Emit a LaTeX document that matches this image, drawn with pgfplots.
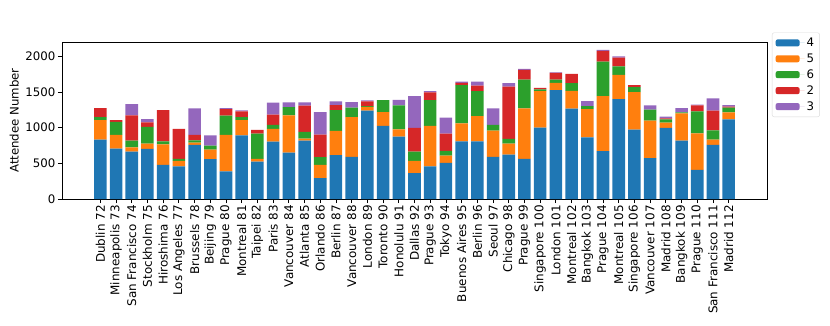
\documentclass[border=0pt]{standalone}
\usepackage{pgfplots}
\pgfplotsset{compat=1.18}
\usepackage{pgfplotstable}
\usepackage{fontspec}
\setmainfont{DejaVu Sans}
\definecolor{c4}{HTML}{1F77B4}
\definecolor{c5}{HTML}{FF7F0E}
\definecolor{c6}{HTML}{2CA02C}
\definecolor{c2}{HTML}{D62728}
\definecolor{c3}{HTML}{9467BD}
\pgfplotstableread{
x v4 v5 v6 v2 v3
0 832 275 42 125 0
1 707 190 182 28 0
2 665 60 93 354 158
3 702 75 232 65 47
4 479 288 42 437 0
5 456 79 28 418 0
6 758 33 32 74 372
7 558 135 56 0 144
8 386 511 270 93 14
9 893 214 42 79 14
10 525 38 353 51 0
11 804 177 56 144 168
12 651 521 116 0 65
13 818 28 93 368 46
14 293 186 107 316 316
15 614 339 293 70 51
16 591 558 130 0 79
17 1237 55 10 65 14
18 1023 195 168 0 0
19 874 103 334 0 79
20 363 172 130 330 447
21 456 567 363 107 18
22 507 102 65 242 223
23 809 251 535 33 18
24 809 354 348 79 56
25 591 367 79 0 232
26 623 154 65 734 47
27 563 706 405 135 14
28 1000 511 24 23 0
29 1525 103 46 93 9
30 1265 251 107 130 0
31 865 395 42 0 70
32 670 772 483 149 14
33 1400 339 121 121 19
34 972 525 70 28 0
35 572 525 154 0 60
36 995 75 46 14 23
37 818 382 14 0 60
38 409 512 307 83 10
39 758 74 131 274 172
40 1116 98 65 14 23
}\data
\begin{document}
\fontsize{11.8}{14}\selectfont
\begin{tikzpicture}
\begin{axis}[
  scale only axis,
  width=705bp, height=157bp,
  ybar stacked, bar width=0.8,
  xmin=-2.44, xmax=42.44,
  ymin=0, ymax=2200,
  ytick={0,500,1000,1500,2000},
  xtick=data,
  xticklabels={Dublin 72,Minneapolis 73,San Francisco 74,Stockholm 75,Hiroshima 76,Los Angeles 77,Brussels 78,Beijing 79,Prague 80,Montreal 81,Taipei 82,Paris 83,Vancouver 84,Atlanta 85,Orlando 86,Berlin 87,Vancouver 88,London 89,Toronto 90,Honolulu 91,Dallas 92,Prague 93,Tokyo 94,Buenos Aires 95,Berlin 96,Seoul 97,Chicago 98,Prague 99,Singapore 100,London 101,Montreal 102,Bangkok 103,Prague 104,Montreal 105,Singapore 106,Vancouver 107,Madrid 108,Bangkok 109,Prague 110,San Francisco 111,Madrid 112},
  xticklabel style={rotate=90, anchor=east, font=\fontsize{12}{14}\selectfont, inner sep=2bp},
  yticklabel style={font=\fontsize{11.8}{14}\selectfont, inner sep=2.5bp},
  /pgf/number format/assume math mode=true,
  /pgf/number format/1000 sep={},
  xtick pos=bottom, ytick pos=left,
  tick align=outside,
  major tick length=4bp,
  tick style={black, line width=0.8pt},
  axis line style={line width=0.8pt},
  ylabel={Attendee Number},
  ylabel style={font=\fontsize{11.8}{14}\selectfont},
  legend style={at={(rel axis cs:1.007,1.06)}, anchor=north west, draw=black!15, rounded corners=2pt, font=\fontsize{11.8}{14}\selectfont, row sep=1.5bp, inner xsep=3.5bp, inner ysep=3bp},
  legend cell align=left,
  legend image code/.code={\fill[#1] (0bp,-3.5bp) rectangle (24bp,3.5bp); \path (0bp,0bp) -- (29bp,0bp);},
  every axis plot/.append style={draw=none},
]
\addplot[fill=c4] table[x=x,y=v4]{\data};
\addplot[fill=c5] table[x=x,y=v5]{\data};
\addplot[fill=c6] table[x=x,y=v6]{\data};
\addplot[fill=c2] table[x=x,y=v2]{\data};
\addplot[fill=c3] table[x=x,y=v3]{\data};
\legend{4,5,6,2,3}
\end{axis}
\pgfresetboundingbox
\path ([xshift=-62bp,yshift=-127bp]current axis.south west) rectangle ([xshift=768bp,yshift=199bp]current axis.south west);
\end{tikzpicture}
\end{document}
